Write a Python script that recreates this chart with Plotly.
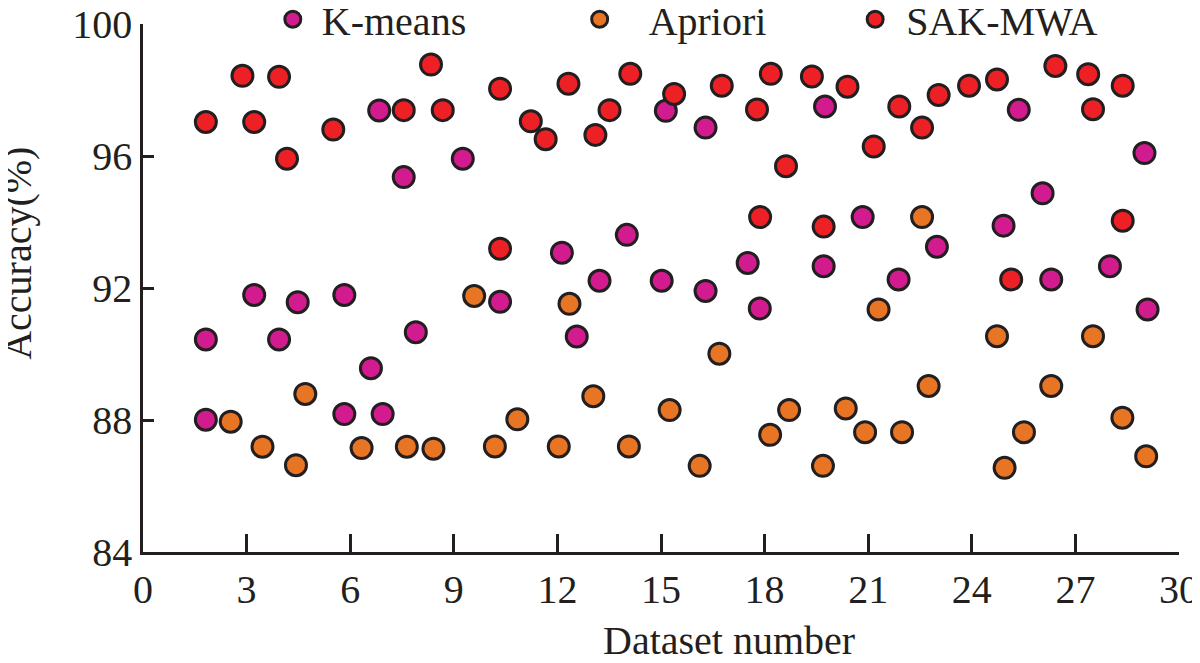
import plotly.graph_objects as go

# ---- data ----
kmeans_x = [1.82, 1.82, 3.22, 3.94, 4.48, 5.83, 5.83, 6.60, 6.84, 6.94, 7.55, 7.90,
            9.26, 10.34, 12.13, 12.56, 13.22, 14.01, 15.02, 15.14, 16.29, 16.29,
            17.51, 17.86, 19.71, 19.75, 20.84, 21.88, 22.99, 24.92, 25.36, 26.05,
            26.30, 28.00, 29.00, 29.09]
kmeans_y = [90.44, 88.01, 91.79, 90.44, 91.57, 91.79, 88.18, 89.57, 97.38, 88.18, 95.36, 90.66,
            95.92, 91.58, 93.07, 90.53, 92.22, 93.61, 92.22, 97.37, 96.86, 91.91,
            92.76, 91.38, 92.66, 97.50, 94.15, 92.26, 93.25, 93.89, 97.40, 94.87,
            92.26, 92.66, 96.09, 91.35]

apriori_x = [2.54, 3.46, 4.43, 4.70, 6.33, 7.64, 8.41, 9.59, 10.19, 10.84, 12.04, 12.35,
             13.04, 14.07, 15.25, 16.12, 16.69, 18.16, 18.71, 19.69, 20.35, 20.91,
             21.30, 21.98, 22.56, 22.75, 24.73, 24.95, 25.51, 26.30, 27.51, 28.36, 29.05]
apriori_y = [87.95, 87.19, 86.63, 88.79, 87.15, 87.19, 87.13, 91.76, 87.20, 88.02, 87.20, 91.52,
             88.72, 87.20, 88.30, 86.61, 90.01, 87.55, 88.30, 86.61, 88.35, 87.63,
             91.35, 87.63, 94.15, 89.03, 90.54, 86.55, 87.63, 89.03, 90.54, 88.07, 86.90]

sakmwa_x = [1.82, 2.88, 3.22, 3.94, 4.17, 5.51, 7.55, 8.34, 8.68, 10.34, 10.34, 11.23,
            11.66, 12.32, 13.10, 13.51, 14.11, 15.38, 16.76, 17.78, 17.87, 18.18,
            18.62, 19.37, 19.71, 20.40, 21.16, 21.90, 22.56, 23.04, 23.92, 24.73,
            25.14, 26.42, 27.37, 27.51, 28.37, 28.37]
sakmwa_y = [97.03, 98.43, 97.03, 98.40, 95.92, 96.80, 97.39, 98.77, 97.39, 98.04, 93.19, 97.05,
            96.51, 98.19, 96.64, 97.39, 98.49, 97.88, 98.13, 97.41, 94.15, 98.49,
            95.69, 98.41, 93.86, 98.10, 96.29, 97.50, 96.86, 97.85, 98.13, 98.32,
            92.26, 98.73, 98.48, 97.42, 98.13, 94.04]

x_ticks = [0, 3, 6, 9, 12, 15, 18, 21, 24, 27, 30]
y_ticks = [84, 88, 92, 96, 100]

series = [
    ("K-means", kmeans_x, kmeans_y, "#d11b8e", "legend"),
    ("Apriori", apriori_x, apriori_y, "#e87524", "legend2"),
    ("SAK-MWA", sakmwa_x, sakmwa_y, "#ed2125", "legend3"),
]

INK = "#231f20"
FONT = "Liberation Serif, Times New Roman, serif"

fig = go.Figure()
for name, xs, ys, col, leg in series:
    fig.add_trace(go.Scatter(
        x=xs, y=ys, mode="markers", name=name, legend=leg,
        marker=dict(size=21, color=col, line=dict(color=INK, width=3)),
        cliponaxis=False,
    ))

def legend_at(xp, iw):
    return dict(x=xp, y=1.0091, xanchor="left", yanchor="middle",
                orientation="h", bgcolor="rgba(0,0,0,0)", borderwidth=0,
                itemwidth=iw,
                font=dict(family=FONT, size=40, color=INK))

fig.update_layout(
    width=1200, height=663,
    margin=dict(l=135.3, r=29.4, t=16.3, b=119.3, autoexpand=False),
    paper_bgcolor="white", plot_bgcolor="white",
    font=dict(family=FONT, size=40, color=INK),
    showlegend=True,
    legend=legend_at(0.1166, 48),
    legend2=legend_at(0.3935, 88),
    legend3=legend_at(0.6768, 52),
    xaxis=dict(range=[0, 30], tickvals=x_ticks, ticks="inside", ticklen=18,
               tickwidth=2.5, tickcolor=INK, showline=True, linewidth=2.5,
               linecolor=INK, showgrid=False, zeroline=False, mirror=False,
               ticklabelstandoff=0, automargin=False, ticklabeloverflow="allow",
               tickfont=dict(family=FONT, size=40, color=INK)),
    yaxis=dict(range=[84, 100], tickvals=y_ticks, ticks="inside", ticklen=11,
               tickwidth=2.5, tickcolor=INK, showline=True, linewidth=2.5,
               linecolor=INK, showgrid=False, zeroline=False, mirror=False,
               ticklabelstandoff=0, automargin=False, ticklabeloverflow="allow",
               tickfont=dict(family=FONT, size=40, color=INK)),
    annotations=[
        dict(text="Dataset number", xref="paper", yref="paper", x=0.566, y=-0.167,
             xanchor="center", yanchor="middle", showarrow=False,
             font=dict(family=FONT, size=40, color=INK)),
        dict(text="Accuracy(%)", xref="paper", yref="paper", x=-0.121, y=0.566,
             xanchor="center", yanchor="middle", showarrow=False, textangle=-90,
             font=dict(family=FONT, size=40, color=INK)),
    ],
)

fig.write_html("out.html")
